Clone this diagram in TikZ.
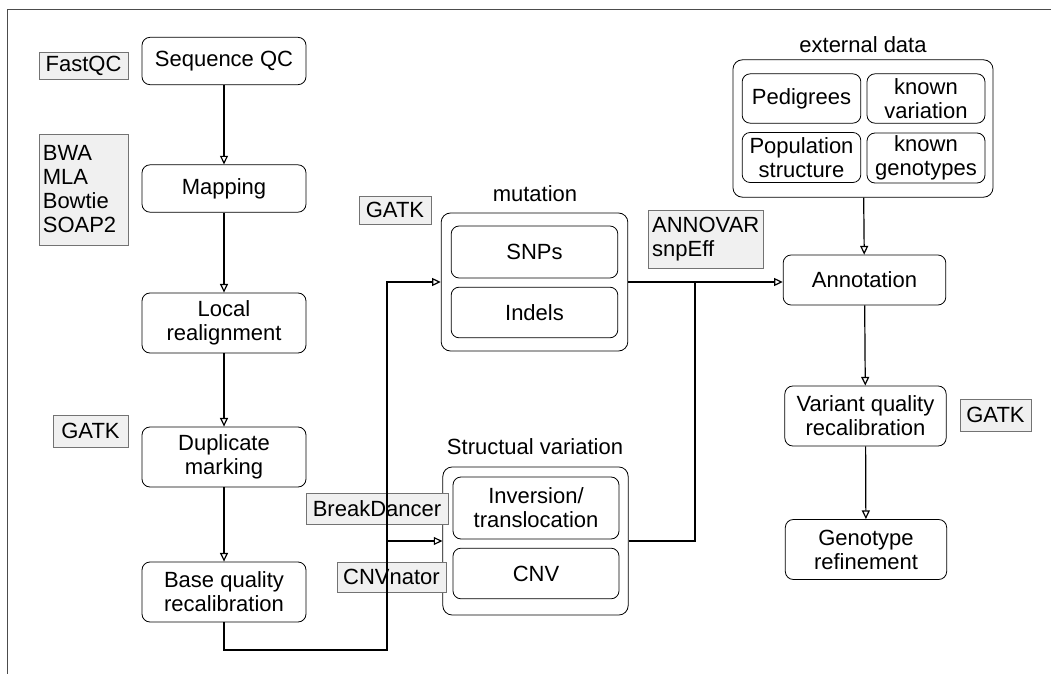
\documentclass[tikz,border=0pt]{standalone}
\usepackage{fontspec}
\setmainfont{Liberation Sans}
\usetikzlibrary{positioning,arrows.meta}

\begin{document}
\begin{tikzpicture}[x=0.75pt, y=-0.75pt, font=\fontsize{16.5}{18}\selectfont]
	\tikzstyle{block} = [rectangle, draw, fill=white, text centered, rounded corners=6pt, minimum width=123pt, minimum height=35.5pt, align=center, line width=0.6pt, inner sep=1pt]
	\tikzstyle{tall} = [minimum height=45pt]
	\tikzstyle{group} = [rectangle, draw, rounded corners=7pt, line width=0.6pt]
	\tikzstyle{tool} = [rectangle, draw=black!55, fill=gray!12, inner sep=3pt, line width=0.5pt]
	\tikzstyle{line} = [draw, -{Triangle[open, length=6.5pt, width=6pt]}, line width=0.9pt]

	\useasboundingbox (0,0) rectangle (1051,674);
	\draw[line width=0.6pt, gray!60!black] (7,674) -- (7,9) -- (1051,9);

	    % Place nodes
	    \node [block] (seqqc) at (224,61) {Sequence QC};
	    \node [block] (mapping) at (224,188.5) {Mapping};
	    \node [block, tall] (local) at (224,323) {Local\\realignment};
	    \node [block, tall] (dup) at (224,457) {Duplicate\\marking};
	    \node [block, tall] (bqr) at (224,592) {Base quality\\recalibration};

	    \node [tool, minimum width=67pt, minimum height=19.5pt] (fastqc) at (83.5,66) {FastQC};
	    \node [tool, text width=61pt, minimum height=83pt, align=left] (mappers) at (83.5,189.5) {BWA\\MLA\\Bowtie\\SOAP2};
	    \node [tool, minimum width=56pt, minimum height=24pt] (gatkleft) at (90.5,431) {GATK};

	    \node [group, minimum width=140pt, minimum height=103.5pt] (mutation) at (534.5,282) {};
	    \node [block, minimum width=125pt, minimum height=39pt] (snps) at (534.5,252) {SNPs};
	    \node [block, minimum width=125pt, minimum height=38pt] (indels) at (534.5,312.5) {Indels};
	    \node (mutlabel) at (535,194) {mutation};
	    \node [tool, minimum width=54pt, minimum height=21pt] (gatkmut) at (395,210) {GATK};

	    \node [group, minimum width=139pt, minimum height=111pt] (sv) at (535.5,541) {};
	    \node [block, minimum width=124.5pt, minimum height=46.5pt] (inversion) at (536,508) {Inversion/\\translocation};
	    \node [block, minimum width=124.5pt, minimum height=38pt] (cnv) at (536,573.5) {CNV};
	    \node (svlabel) at (535,447) {Structual variation};
	    \node [tool, minimum width=106.5pt, minimum height=23pt] (breakdancer) at (377,508.5) {BreakDancer};
	    \node [tool, minimum width=82pt, minimum height=22.5pt] (cnvnator) at (391.5,577) {CNVnator};

	    \node [tool, text width=80pt, minimum height=43.5pt, align=left] (annovar) at (705.5,239) {ANNOVAR\\snpEff};

	    \node [group, minimum width=195pt, minimum height=103pt] (extdata) at (863,128.5) {};
	    \node [block, minimum width=89pt, minimum height=37pt] (pedigrees) at (801.5,98.5) {Pedigrees};
	    \node [block, minimum width=88.5pt, minimum height=37pt] (knownvar) at (926,98.5) {known\\variation};
	    \node [block, minimum width=89pt, minimum height=37.5pt] (population) at (801.5,157.5) {Population\\structure};
	    \node [block, minimum width=88.5pt, minimum height=37.5pt] (knowngeno) at (926,158) {known\\genotypes};
	    \node (extlabel) at (863,45) {external data};

	    \node [block, minimum width=122pt, minimum height=37.5pt] (annotation) at (864.5,280) {Annotation};
	    \node [block, tall, minimum width=121pt] (variant) at (865.5,416) {Variant quality\\recalibration};
	    \node [block, tall, minimum width=121pt] (genotype) at (866,549.5) {Genotype\\refinement};
	    \node [tool, minimum width=53pt, minimum height=24pt] (gatkright) at (995.5,415) {GATK};

	    \coordinate (split) at (387,650);
	    \coordinate (join) at (695,282);

	    % Draw edges
	    \path [line] (seqqc) -- (mapping);
	    \path [line] (mapping) -- (local);
	    \path [line] (local) -- (dup);
	    \path [line] (dup) -- (bqr);
	    \path [line] (bqr.south) |- (split) |- (mutation.west);
	    \path [line] (split |- sv.west) -- (sv.west);
	    \path [line] (mutation.east) -- (annotation.west |- mutation.east);
	    \draw [line width=0.9pt] (sv.east) -| (join);
	    \path [line] (extdata) -- (annotation);
	    \path [line] (annotation) -- (variant);
	    \path [line] (variant) -- (genotype);

\end{tikzpicture}
\end{document}
